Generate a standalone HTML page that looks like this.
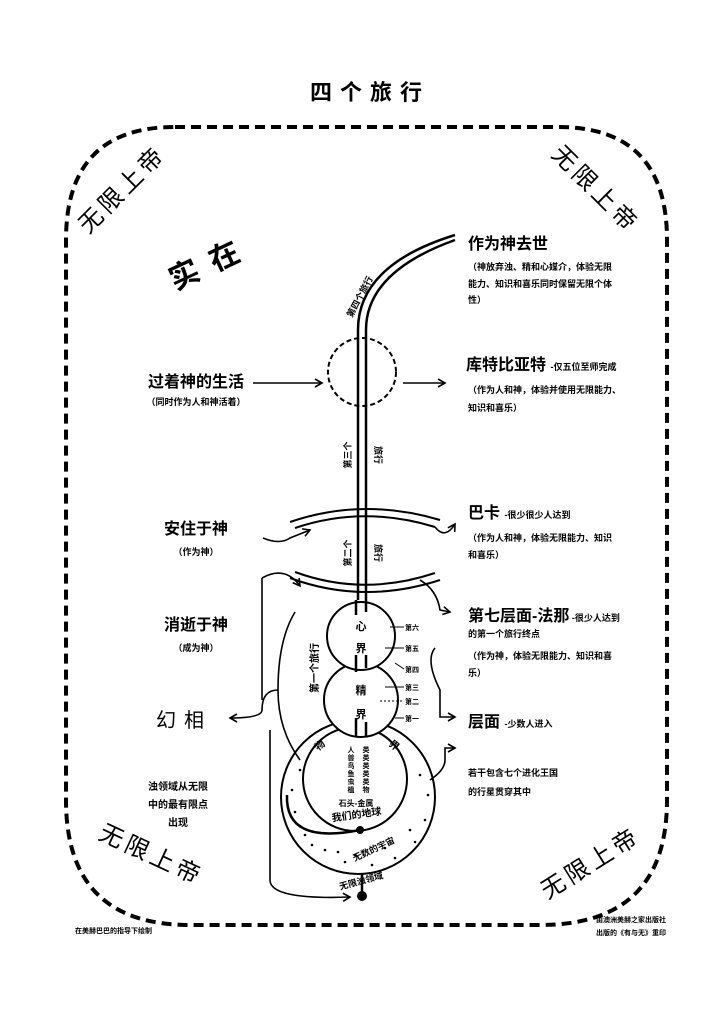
<!DOCTYPE html>
<html><head><meta charset="utf-8"><style>
body{margin:0;background:#fff;}
svg{display:block;font-family:"Liberation Sans","Noto Sans CJK SC",sans-serif;}
.b{font-weight:bold;}
</style></head><body>
<svg width="718" height="1024" viewBox="0 0 718 1024" xmlns="http://www.w3.org/2000/svg">
<defs>
<marker id="a" markerWidth="10" markerHeight="10" refX="8" refY="5" orient="auto" markerUnits="userSpaceOnUse"><path d="M1,1 L8,5 L1,9" fill="none" stroke="#000" stroke-width="1.6"/></marker>
</defs>
<rect width="718" height="1024" fill="#fff"/>
<text x="370" y="100" text-anchor="middle" font-size="22" class="b" letter-spacing="8">四个旅行</text>
<path d="M175,127 L558,127 Q667,127 667,240 L667,800 Q667,925 540,925 L190,925 Q66,925 66,800 L66,240 Q66,127 175,127 Z" fill="none" stroke="#000" stroke-width="4" stroke-dasharray="10,6"/>
<g font-size="24" fill="#000">
<text transform="translate(128,195) rotate(-45)" text-anchor="middle" letter-spacing="4">无限上帝</text>
<text transform="translate(590,195) rotate(45)" text-anchor="middle" letter-spacing="4">无限上帝</text>
<text transform="translate(148,862) rotate(25)" text-anchor="middle" letter-spacing="4">无限上帝</text>
<text transform="translate(595,870) rotate(-32)" text-anchor="middle" letter-spacing="4">无限上帝</text>
</g>
<text transform="translate(215,272) rotate(-25)" font-size="30" class="b" text-anchor="middle" letter-spacing="14">实在</text>
<g fill="none" stroke="#000" stroke-width="2.5">
<path d="M358,600 L358,330 Q358,265 455,235"/>
<path d="M366,600 L366,330 Q366,272 455,240"/>
</g>
<text transform="translate(352,318) rotate(-62)" font-size="9" class="b">第四个旅行</text>
<text transform="translate(351,455) rotate(-90)" font-size="9" class="b" text-anchor="middle">第三个</text>
<text transform="translate(375,455) rotate(90)" font-size="9" class="b" text-anchor="middle">旅行</text>
<text transform="translate(351,553) rotate(-90)" font-size="9" class="b" text-anchor="middle">第二个</text>
<text transform="translate(375,553) rotate(90)" font-size="9" class="b" text-anchor="middle">旅行</text>
<circle cx="362" cy="372" r="34" fill="none" stroke="#000" stroke-width="2" stroke-dasharray="5,3"/>
<g fill="none" stroke="#000" stroke-width="2">
<path d="M290,522 Q363,497 440,520"/>
<path d="M295,528 Q363,505 435,527"/>
<path d="M290,578 Q363,605 440,580"/>
<path d="M295,572 Q363,597 435,573"/>
</g>
<g fill="#fff" stroke="#000" stroke-width="2">
<circle cx="358" cy="797" r="77"/>
<circle cx="355" cy="779" r="52"/>
<circle cx="361" cy="700" r="37"/>
<circle cx="361" cy="636" r="34"/>
</g>
<g stroke="#000" stroke-width="2.5">
<line x1="356" y1="600" x2="356" y2="615"/><line x1="366" y1="600" x2="366" y2="612"/>
<line x1="356" y1="655" x2="356" y2="672"/><line x1="366" y1="655" x2="366" y2="668"/>
<line x1="356" y1="718" x2="356" y2="737"/><line x1="366" y1="722" x2="366" y2="737"/>
</g>
<g fill="#000">
<circle cx="292" cy="790" r="1.3"/><circle cx="295" cy="812" r="1.3"/><circle cx="305" cy="835" r="1.3"/><circle cx="325" cy="850" r="1.3"/><circle cx="345" cy="862" r="1.3"/><circle cx="372" cy="865" r="1.3"/><circle cx="395" cy="858" r="1.3"/><circle cx="415" cy="842" r="1.3"/><circle cx="425" cy="820" r="1.3"/><circle cx="428" cy="795" r="1.3"/><circle cx="300" cy="770" r="1.3"/><circle cx="312" cy="845" r="1.3"/><circle cx="420" cy="775" r="1.3"/><circle cx="385" cy="848" r="1.3"/><circle cx="338" cy="852" r="1.3"/><circle cx="410" cy="830" r="1.3"/><circle cx="300" cy="826" r="1.3"/><circle cx="355" cy="855" r="1.3"/>
</g>
<path d="M287,795 Q285,845 360,830" fill="none" stroke="#000" stroke-width="2.5"/>
<circle cx="360" cy="830" r="4" fill="#000"/>
<line x1="362" y1="874" x2="362" y2="892" stroke="#000" stroke-width="2.5"/>
<circle cx="362" cy="896" r="5" fill="#000"/>
<g font-size="11" class="b" text-anchor="middle">
<text x="361" y="630">心</text><text x="361" y="652">界</text>
<text x="361" y="694">精</text><text x="361" y="718">界</text>
<text x="322" y="748" transform="rotate(-40 322 748)" font-size="10">物</text>
<text x="392" y="748" transform="rotate(40 392 748)" font-size="10">界</text>
<text x="357" y="818" font-size="10" transform="rotate(-8 357 818)">我们的地球</text>
<text x="356" y="806" font-size="8">石头-金属</text>
<text x="375" y="852" font-size="9" transform="rotate(-25 375 852)">无数的宇宙</text>
<text x="362" y="884" font-size="9" transform="rotate(-15 362 884)">无限浊领域</text>
</g>
<g font-size="7" class="b" text-anchor="middle">
<text x="351" y="752">人</text><text x="351" y="760">兽</text><text x="351" y="768">鸟</text><text x="351" y="776">鱼</text><text x="351" y="784">虫</text><text x="351" y="792">植</text>
<text x="366" y="752">类</text><text x="366" y="760">类</text><text x="366" y="768">类</text><text x="366" y="776">类</text><text x="366" y="784">类</text><text x="366" y="792">物</text>
</g>
<g font-size="7" class="b"><text x="405" y="630">第六</text><text x="405" y="651">第五</text><text x="405" y="672">第四</text><text x="405" y="690">第三</text><text x="405" y="704">第二</text><text x="405" y="721">第一</text></g>
<g stroke="#000" stroke-width="1"><line x1="390" y1="627" x2="404" y2="627"/><line x1="385" y1="648" x2="404" y2="648"/><line x1="395" y1="663" x2="404" y2="669"/><line x1="385" y1="687" x2="404" y2="687"/><line x1="380" y1="701" x2="404" y2="701" stroke-dasharray="2,2"/><line x1="395" y1="718" x2="404" y2="718"/></g>
<text transform="translate(318,668) rotate(-90)" font-size="10" class="b" text-anchor="middle">第一个旅行</text>
<g fill="none" stroke="#000" stroke-width="1.6" marker-end="url(#a)">
<path d="M253,383 L322,383"/>
<path d="M403,383 L445,383"/>
<path d="M263,538 Q280,545 290,538 L310,530"/>
<path d="M435,527 Q445,540 455,524"/>
<path d="M262,578 Q285,565 300,586"/>
<path d="M420,580 Q437,590 440,610 L450,612"/>
<path d="M435,648 Q425,660 440,690 L440,717 L455,717"/>
<path d="M278,690 Q262,690 262,710 Q262,718 230,718"/>
<path d="M430,780 Q445,770 445,760 L445,748 L455,748"/>
<path d="M270,730 L270,880 Q270,900 350,897"/>
</g>
<path d="M295,612 Q278,640 278,690 Q278,730 300,760" fill="none" stroke="#000" stroke-width="1.6"/>
<path d="M262,578 L262,700" fill="none" stroke="#000" stroke-width="1.6"/>
<g class="b" text-anchor="middle">
<text x="196" y="387" font-size="16">过着神的生活</text>
<text x="196" y="405" font-size="9">（同时作为人和神活着）</text>
<text x="196" y="534" font-size="16">安住于神</text>
<text x="196" y="555" font-size="9">（作为神）</text>
<text x="196" y="630" font-size="16">消逝于神</text>
<text x="196" y="651" font-size="9">（成为神）</text>
<text x="184" y="727" font-size="20" font-weight="normal" letter-spacing="8">幻相</text>
<text x="178" y="790" font-size="10">浊领域从无限</text>
<text x="178" y="808" font-size="10">中的最有限点</text>
<text x="178" y="826" font-size="10">出现</text>
</g>
<g class="b">
<text x="468" y="249" font-size="16">作为神去世</text>
<text x="468" y="270" font-size="9">（神放弃浊、精和心媒介，体验无限</text>
<text x="468" y="287" font-size="9">能力、知识和喜乐同时保留无限个体</text>
<text x="468" y="303" font-size="9">性）</text>
<text x="466" y="370" font-size="16">库特比亚特 <tspan font-size="9">-仅五位至师完成</tspan></text>
<text x="468" y="393" font-size="9">（作为人和神，体验并使用无限能力、</text>
<text x="468" y="411" font-size="9">知识和喜乐）</text>
<text x="468" y="518" font-size="16">巴卡 <tspan font-size="9">-很少很少人达到</tspan></text>
<text x="468" y="541" font-size="9">（作为人和神，体验无限能力、知识</text>
<text x="468" y="558" font-size="9">和喜乐）</text>
<text x="468" y="621" font-size="16">第七层面-法那<tspan font-size="9"> -很少人达到</tspan></text>
<text x="468" y="637" font-size="9">的第一个旅行终点</text>
<text x="468" y="659" font-size="9">（作为神，体验无限能力、知识和喜</text>
<text x="468" y="676" font-size="9">乐）</text>
<text x="468" y="727" font-size="16">层面 <tspan font-size="9">-少数人进入</tspan></text>
<text x="468" y="776" font-size="9">若干包含七个进化王国</text>
<text x="468" y="795" font-size="9">的行星贯穿其中</text>
<text x="75" y="933" font-size="7">在美赫巴巴的指导下绘制</text>
<text x="596" y="922" font-size="7">由澳洲美赫之家出版社</text>
<text x="596" y="935" font-size="7">出版的《有与无》重印</text>
</g>
</svg>
</body></html>
